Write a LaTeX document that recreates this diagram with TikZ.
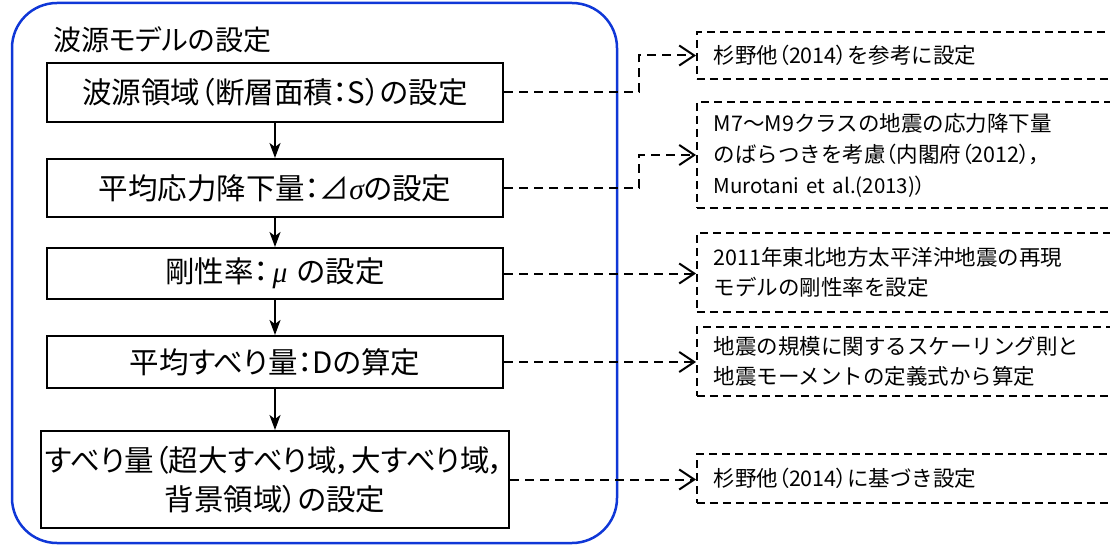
\documentclass[tikz,border=0pt]{standalone}
\usepackage{fontspec}
\setmainfont{Noto Sans CJK JP}
\newfontfamily\jpp{Noto Sans CJK JP}[RawFeature=+palt]
\newfontfamily\grk{Liberation Serif}
\newcommand{\gkit}[1]{{\grk\itshape #1}}
\newcommand{\pp}[1]{{\jpp #1}}
\usetikzlibrary{arrows.meta}
\definecolor{frameblue}{RGB}{15,55,215}
\tikzset{
  mainbox/.style={draw=black,line width=2pt,minimum width=456pt,inner sep=0pt,align=center,font=\jpp\fontsize{29.5}{39}\selectfont},
  notebox/.style={draw=black,line width=1.5pt,dash pattern=on 8pt off 5pt,inner xsep=17pt,inner ysep=0pt,text width=400pt,align=left,anchor=west,font=\fontsize{21.5}{30}\selectfont},
  flow/.style={line width=2pt,-{Stealth[length=15pt,width=11pt,inset=4pt]}},
  link/.style={line width=2pt,dash pattern=on 9pt off 6pt,-{Straight Barb[length=15pt,width=20pt,line width=2pt]}}
}
\begin{document}
\begin{tikzpicture}[x=1pt,y=-1pt]
\useasboundingbox (0,0) rectangle (1110,545);
\clip (0,0) rectangle (1110,545);
\draw[frameblue,line width=2.5pt,rounded corners=45pt] (12,3) rectangle (617,543);
\node[anchor=west,font=\jpp\fontsize{28}{34}\selectfont,inner sep=0pt] (title) at (53,40) {波源モデルの設定};
\node[mainbox,minimum height=59pt] (b1) at (275,92.5) {波源領域（断層面積：S）の設定};
\node[mainbox,minimum height=58pt] (b2) at (275,188) {平均応力降下量：⊿\gkit{σ}の設定};
\node[mainbox,minimum height=51pt] (b3) at (275,273.5) {剛性率：\kern4pt\gkit{μ}\kern10pt の設定};
\node[mainbox,minimum height=52pt] (b4) at (275,362) {平均すべり量：Dの算定};
\node[mainbox,minimum height=97pt,minimum width=468pt] (b5) at (275,479.5) {すべり量（超大すべり域，大すべり域，\\背景領域）の設定};
\draw[flow] (b1) -- (b2);
\draw[flow] (b2) -- (b3);
\draw[flow] (b3) -- (b4);
\draw[flow] (b4) -- (b5);
\node[notebox,minimum height=47pt] (n1) at (696,55.5) {杉野他\pp{（}2014\pp{）}を参考に設定};
\node[notebox,minimum height=106pt] (n2) at (696,155) {M7～M9クラスの地震の応力降下量\\[1pt]のばらつきを考慮\pp{（}内閣府\pp{（}2012\pp{），}\\[1pt]{\fontsize{20.5}{28}\selectfont Murotani et al.(2013)\pp{）}}};
\node[notebox,minimum height=79pt] (n3) at (696,272.5) {2011年東北地方太平洋沖地震の再現\\モデルの剛性率を設定};
\node[notebox,minimum height=69pt] (n4) at (696,361.5) {地震の規模に関するスケーリング則と\\地震モーメントの定義式から算定};
\node[notebox,minimum height=49pt] (n5) at (696,478.5) {杉野他\pp{（}2014\pp{）}に基づき設定};
\draw[link] (b1.east) -- ++(135,0) |- (n1.west);
\draw[link] (b2.east) -- ++(135,0) |- (n2.west);
\draw[link] (b3.east) -- (b3.east -| n3.west);
\draw[link] (b4.east) -- (b4.east -| n4.west);
\draw[link] (b5.east) -- (b5.east -| n5.west);
\end{tikzpicture}
\end{document}
